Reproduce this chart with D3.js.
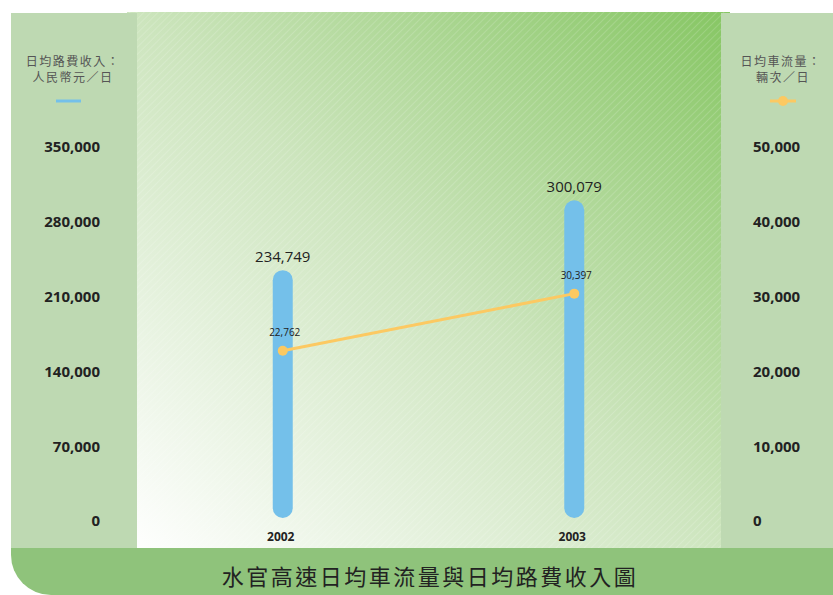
<html>
<head>
    <meta charset="UTF-8" />
    <script src="https://d3js.org/d3.v7.min.js"></script>
    <style>
        body { margin: 0; background: white; }
        .tick text { font-family: "Open Sans", sans-serif; font-weight: bold; font-size: 15px; fill: #222; }
        .axtitle { font-family: "Noto Sans CJK TC", sans-serif; font-size: 12px; fill: #555; letter-spacing: 1.5px; }
    </style>
</head>
<body>
    <svg id="chart" width="833" height="595"></svg>
    <script>
        // data
        const years = ["2002", "2003"];
        const revenue = [234749, 300079];   // 日均路費收入 (人民幣元/日)
        const traffic = [22762, 30397];     // 日均車流量 (輛次/日)
        const leftTicks = [0, 70000, 140000, 210000, 280000, 350000];
        const rightTicks = [0, 10000, 20000, 30000, 40000, 50000];
        const title = "水官高速日均車流量與日均路費收入圖";

        const svg = d3.select("#chart");
        const fmt = d3.format(",");

        // gradient + hatching for plot area
        const defs = svg.append("defs");
        const grad = defs.append("linearGradient").attr("id", "bg")
            .attr("x1", "0").attr("y1", "1").attr("x2", "1").attr("y2", "0");
        grad.append("stop").attr("offset", "0").attr("stop-color", "#ffffff");
        grad.append("stop").attr("offset", "0.5").attr("stop-color", "#cde5be");
        grad.append("stop").attr("offset", "1").attr("stop-color", "#86c663");

        const pat = defs.append("pattern").attr("id", "hatch")
            .attr("width", 5).attr("height", 5)
            .attr("patternUnits", "userSpaceOnUse")
            .attr("patternTransform", "rotate(45)");
        pat.append("line").attr("x1", 0).attr("y1", 0).attr("x2", 0).attr("y2", 5)
            .attr("stroke", "white").attr("stroke-width", 1).attr("stroke-opacity", 0.3);

        // plot area
        svg.append("rect").attr("x", 127).attr("y", 12).attr("width", 603).attr("height", 536)
            .attr("fill", "url(#bg)");
        svg.append("rect").attr("x", 127).attr("y", 12).attr("width", 603).attr("height", 536)
            .attr("fill", "url(#hatch)");

        // side panels
        svg.append("rect").attr("x", 11).attr("y", 13).attr("width", 126).attr("height", 535).attr("fill", "#bed9b2");
        svg.append("rect").attr("x", 721).attr("y", 13).attr("width", 112).attr("height", 535).attr("fill", "#bed9b2");

        // bottom title bar with rounded bottom-left corner
        svg.append("path")
            .attr("d", "M11,548 H833 V595 H51 A40,40 0 0 1 11,555 Z")
            .attr("fill", "#8fc37b");
        svg.append("text")
            .attr("x", 430).attr("y", 575)
            .attr("text-anchor", "middle").attr("dominant-baseline", "central")
            .style("font-family", "'Noto Sans CJK TC', sans-serif")
            .style("font-size", "22px").style("letter-spacing", "2.5px")
            .style("fill", "#222")
            .text(title);

        // scales
        const x = d3.scalePoint().domain(years).range([137, 720]).padding(0.5);
        const yL = d3.scaleLinear().domain([0, 350000]).range([521, 147]);
        const yR = d3.scaleLinear().domain([0, 50000]).range([521, 147]);

        // axes
        const axL = svg.append("g").attr("transform", "translate(100,0)")
            .call(d3.axisLeft(yL).tickValues(leftTicks).tickSize(0).tickPadding(0).tickFormat(fmt));
        axL.select(".domain").remove();
        const axR = svg.append("g").attr("transform", "translate(753,0)")
            .call(d3.axisRight(yR).tickValues(rightTicks).tickSize(0).tickPadding(0).tickFormat(fmt));
        axR.select(".domain").remove();

        // axis titles + legends
        svg.append("text").attr("class", "axtitle").attr("x", 73).attr("y", 66)
            .attr("text-anchor", "middle").text("日均路費收入：");
        svg.append("text").attr("class", "axtitle").attr("x", 73).attr("y", 82)
            .attr("text-anchor", "middle").text("人民幣元／日");
        svg.append("line").attr("x1", 56).attr("x2", 81).attr("y1", 101).attr("y2", 101)
            .attr("stroke", "#74c0ea").attr("stroke-width", 3);

        svg.append("text").attr("class", "axtitle").attr("x", 781).attr("y", 66)
            .attr("text-anchor", "middle").text("日均車流量：");
        svg.append("text").attr("class", "axtitle").attr("x", 783).attr("y", 82)
            .attr("text-anchor", "middle").text("輛次／日");
        svg.append("line").attr("x1", 770).attr("x2", 796).attr("y1", 101).attr("y2", 101)
            .attr("stroke", "#fcc962").attr("stroke-width", 3);
        svg.append("circle").attr("cx", 783).attr("cy", 101).attr("r", 5).attr("fill", "#fcc962");

        // bars
        const data = years.map((y, i) => ({ year: y, rev: revenue[i], tr: traffic[i] }));
        svg.selectAll("rect.bar").data(data).join("rect")
            .attr("class", "bar")
            .attr("x", d => x(d.year) - 10)
            .attr("width", 20)
            .attr("y", d => yL(d.rev))
            .attr("height", d => yL(0) - yL(d.rev) - 3)
            .attr("rx", 10)
            .attr("fill", "#74c0ea");

        svg.selectAll("text.revlab").data(data).join("text")
            .attr("class", "revlab")
            .attr("x", d => x(d.year))
            .attr("y", d => yL(d.rev) - 8)
            .attr("text-anchor", "middle")
            .style("font-family", "'Open Sans', sans-serif").style("font-size", "15px").style("fill", "#222")
            .text(d => fmt(d.rev));

        // line
        const line = d3.line().x(d => x(d.year)).y(d => yR(d.tr));
        svg.append("path").datum(data)
            .attr("d", line)
            .attr("fill", "none")
            .attr("stroke", "#fcc962")
            .attr("stroke-width", 3);
        svg.selectAll("circle.pt").data(data).join("circle")
            .attr("class", "pt")
            .attr("cx", d => x(d.year))
            .attr("cy", d => yR(d.tr))
            .attr("r", 5)
            .attr("fill", "#fcc962");
        svg.selectAll("text.trlab").data(data).join("text")
            .attr("class", "trlab")
            .attr("x", d => x(d.year) + 2)
            .attr("y", d => yR(d.tr) - 15)
            .attr("text-anchor", "middle")
            .style("font-family", "'Open Sans', sans-serif").style("font-size", "10px").style("fill", "#222")
            .text(d => fmt(d.tr));

        // year labels
        svg.selectAll("text.yr").data(years).join("text")
            .attr("class", "yr")
            .attr("x", d => x(d) - 2)
            .attr("y", 541)
            .attr("text-anchor", "middle")
            .style("font-family", "'Open Sans', sans-serif").style("font-weight", "bold")
            .style("font-size", "12px").style("fill", "#222")
            .text(d => d);
    </script>
</body>
</html>
